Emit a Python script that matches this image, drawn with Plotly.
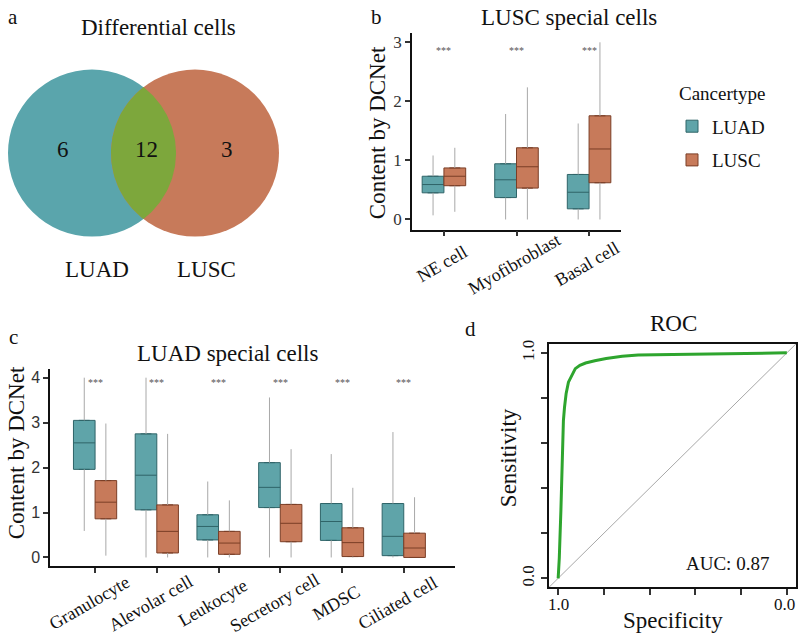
import numpy as np
import plotly.graph_objects as go

# ---------------- data ----------------
# Panel a: Venn counts
venn_labels = ["LUAD", "LUSC"]
venn_luad_only = 6
venn_both = 12
venn_lusc_only = 3

# Panel b: LUSC special cells (box stats)
b_cells = ["NE cell", "Myofibroblast", "Basal cell"]
b_luad_low = [0.07, 0.00, 0.00]
b_luad_q1 = [0.45, 0.37, 0.18]
b_luad_med = [0.59, 0.67, 0.46]
b_luad_q3 = [0.73, 0.94, 0.76]
b_luad_high = [1.08, 1.78, 1.62]
b_lusc_low = [0.13, 0.00, 0.00]
b_lusc_q1 = [0.57, 0.53, 0.62]
b_lusc_med = [0.73, 0.89, 1.19]
b_lusc_q3 = [0.87, 1.21, 1.75]
b_lusc_high = [1.21, 2.23, 2.99]
b_sig = ["***", "***", "***"]
b_sig_y = 2.86

# Panel c: LUAD special cells (box stats)
c_cells = ["Granulocyte", "Alevolar cell", "Leukocyte", "Secretory cell", "MDSC", "Ciliated cell"]
c_luad_low = [0.59, 0.00, 0.00, 0.00, 0.00, 0.00]
c_luad_q1 = [1.96, 1.06, 0.39, 1.11, 0.38, 0.04]
c_luad_med = [2.55, 1.83, 0.69, 1.56, 0.80, 0.47]
c_luad_q3 = [3.05, 2.75, 0.95, 2.11, 1.20, 1.20]
c_luad_high = [4.00, 4.00, 1.69, 3.56, 2.30, 2.79]
c_lusc_low = [0.04, 0.00, 0.00, 0.00, 0.00, 0.00]
c_lusc_q1 = [0.86, 0.10, 0.07, 0.35, 0.02, 0.00]
c_lusc_med = [1.23, 0.58, 0.32, 0.76, 0.33, 0.21]
c_lusc_q3 = [1.71, 1.17, 0.58, 1.18, 0.66, 0.54]
c_lusc_high = [2.98, 2.75, 1.27, 2.41, 1.55, 1.34]
c_sig = ["***"] * 6
c_sig_y = 3.89

# Panel d: ROC curve
roc_spec = [1.0, 0.995, 0.988, 0.983, 0.981, 0.977, 0.972, 0.965, 0.955, 0.94,
            0.925, 0.905, 0.88, 0.84, 0.79, 0.72, 0.65, 0.5, 0.3, 0.1, 0.0]
roc_sens = [0.0, 0.09, 0.30, 0.49, 0.62, 0.70, 0.76, 0.82, 0.87, 0.90,
            0.93, 0.945, 0.955, 0.965, 0.975, 0.985, 0.99, 0.993, 0.996, 0.998, 1.0]
roc_auc = 0.87
roc_tick_labels = ["1.0", "0.0"]

# ---------------- styling ----------------
W, H = 800, 637
SERIF = "Liberation Serif, Times New Roman, serif"
SANS = "Liberation Sans, Arial, sans-serif"
TEAL, TEAL_LINE = "#5FA4A9", "#2F6468"
ORANGE, ORANGE_LINE = "#C77A5A", "#7A3E26"
VENN_TEAL, VENN_ORANGE, VENN_GREEN = "#5AA5AC", "#C77A5A", "#7DA73C"
WHISKER = "#A8A8A8"
TXT = "#111111"


def X(p):
    return p / W


def Y(p):
    return 1 - p / H


fig = go.Figure()
annotations = []
shapes = []


def ann(text, x, y, size, xref="paper", yref="paper", font=SERIF, color=TXT,
        xanchor="center", yanchor="middle", **kw):
    annotations.append(dict(text=text, x=x, y=y, xref=xref, yref=yref, showarrow=False,
                            xanchor=xanchor, yanchor=yanchor,
                            font=dict(family=font, size=size, color=color), **kw))


# ---------------- panel a: Venn ----------------
r = 84
cl, cr, cy = 92, 195, 150
for cx, col in [(cl, VENN_TEAL), (cr, VENN_ORANGE)]:
    shapes.append(dict(type="circle", xref="x5", yref="y5", x0=cx - r, x1=cx + r,
                       y0=cy - r, y1=cy + r, fillcolor=col, line=dict(width=0), layer="below"))
# lens region (intersection of the two circles)
d = cr - cl
a_half = np.arccos((d / 2) / r)
t1 = np.linspace(-a_half, a_half, 60)
lens_x = list(cl + r * np.cos(t1)) + list(cr + r * np.cos(np.pi + t1))
lens_y = list(cy + r * np.sin(t1)) + list(cy + r * np.sin(np.pi + t1))
fig.add_trace(go.Scatter(x=lens_x, y=lens_y, fill="toself", fillcolor=VENN_GREEN, mode="lines",
                         line=dict(width=0), xaxis="x5", yaxis="y5", showlegend=False,
                         hoverinfo="skip"))
ann("a", X(13), Y(13), 21)
ann("Differential cells", X(158), Y(24), 23)
ann(str(venn_luad_only), 63, 146, 23, xref="x5", yref="y5")
ann(str(venn_both), 146, 146, 23, xref="x5", yref="y5")
ann(str(venn_lusc_only), 227, 146, 23, xref="x5", yref="y5")
ann(venn_labels[0], X(97), Y(267), 23)
ann(venn_labels[1], X(207), Y(267), 23)


# ---------------- box helper ----------------
def add_boxes(cells, groups, xa, ya, width, legend):
    n = len(cells)
    for gi, (name, low, q1, med, q3, high, fill, line) in enumerate(groups):
        off = (gi - 0.5) * width
        pos = [i + off for i in range(n)]
        wx, wy = [], []
        for p, lo, a, b, hi in zip(pos, low, q1, q3, high):
            wx += [p, p, None, p, p, None]
            wy += [lo, a, None, b, hi, None]
        fig.add_trace(go.Scatter(x=wx, y=wy, mode="lines", line=dict(color=WHISKER, width=1),
                                 xaxis=xa, yaxis=ya, showlegend=False, hoverinfo="skip"))
        fig.add_trace(go.Box(x=pos, q1=q1, median=med, q3=q3, lowerfence=q1, upperfence=q3,
                             width=width, fillcolor=fill, line=dict(color=line, width=1),
                             name=name, xaxis=xa, yaxis=ya, showlegend=legend,
                             legendgroup=name, boxpoints=False))


# ---------------- panel b ----------------
add_boxes(b_cells,
          [("LUAD", b_luad_low, b_luad_q1, b_luad_med, b_luad_q3, b_luad_high, TEAL, TEAL_LINE),
           ("LUSC", b_lusc_low, b_lusc_q1, b_lusc_med, b_lusc_q3, b_lusc_high, ORANGE, ORANGE_LINE)],
          "x", "y", 0.3, True)
for i, s in enumerate(b_sig):
    ann(s, i, b_sig_y, 10, xref="x", yref="y", color="#555555")
for i, c in enumerate(b_cells):
    ann(c, i, Y(262), 18, xref="x", yref="paper", textangle=-30, xshift=-2)
ann("b", X(376), Y(13), 21)
ann("LUSC special cells", X(569), Y(14), 23)
ann("Content by DCNet", X(377), Y(130), 23, textangle=-90)
ann("Cancertype", X(722), Y(90), 19)

# ---------------- panel c ----------------
add_boxes(c_cells,
          [("LUAD", c_luad_low, c_luad_q1, c_luad_med, c_luad_q3, c_luad_high, TEAL, TEAL_LINE),
           ("LUSC", c_lusc_low, c_lusc_q1, c_lusc_med, c_lusc_q3, c_lusc_high, ORANGE, ORANGE_LINE)],
          "x2", "y2", 0.35, False)
for i, s in enumerate(c_sig):
    ann(s, i, c_sig_y, 10, xref="x2", yref="y2", color="#555555")
for i, c in enumerate(c_cells):
    ann(c, i, Y(603), 18, xref="x2", yref="paper", textangle=-30, xshift=-6)
ann("c", X(13), Y(335), 21)
ann("LUAD special cells", X(227), Y(352), 23)
ann("Content by DCNet", X(16), Y(452), 23, textangle=-90)

# ---------------- panel d ----------------
lo_lim, hi_lim = -0.04, 1.04
fig.add_trace(go.Scatter(x=[hi_lim, lo_lim], y=[1 - hi_lim, 1 - lo_lim], mode="lines",
                         line=dict(color="#A8A8A8", width=1), xaxis="x3", yaxis="y3",
                         showlegend=False, hoverinfo="skip"))
fig.add_trace(go.Scatter(x=roc_spec, y=roc_sens, mode="lines",
                         line=dict(color="#2EA52E", width=3), xaxis="x3", yaxis="y3",
                         showlegend=False))
ann("d", X(470), Y(327), 21)
ann("ROC", X(673), Y(322), 23)
ann(f"AUC: {roc_auc:.2f}", X(727), Y(563), 19)
ann("Sensitivity", X(508), Y(457), 23, textangle=-90)
ann("Specificity", X(673), Y(620), 23)
ann(roc_tick_labels[0], 1.0, Y(604), 17, xref="x3")
ann(roc_tick_labels[1], 0.0, Y(604), 17, xref="x3", xshift=-2)

# ---------------- layout ----------------
axis_common = dict(showgrid=False, zeroline=False, showline=True, linecolor="#111111",
                   linewidth=1.5, ticks="outside", tickcolor="#333333", tickwidth=1.5)
ticks6 = [0, 0.2, 0.4, 0.6, 0.8, 1.0]
tick6_text = ["0.0", "", "", "", "", "1.0"]

fig.update_layout(
    width=W, height=H, margin=dict(l=0, r=0, t=0, b=0),
    paper_bgcolor="white", plot_bgcolor="white",
    annotations=annotations, shapes=shapes,
    xaxis=dict(domain=[X(412), X(621)], range=[-0.44, 2.44], anchor="y",
               tickvals=list(range(len(b_cells))), showticklabels=False, ticklen=5, **axis_common),
    yaxis=dict(domain=[Y(227), Y(29)], range=[-0.17, 3.15], anchor="x",
               tickvals=[0, 1, 2, 3], ticklen=5,
               tickfont=dict(family=SERIF, size=17, color="#333333"), **axis_common),
    xaxis2=dict(domain=[X(50), X(455)], range=[-0.73, 5.83], anchor="y2",
                tickvals=list(range(len(c_cells))), showticklabels=False, ticklen=5, **axis_common),
    yaxis2=dict(domain=[Y(566), Y(367)], range=[-0.2, 4.2], anchor="x2",
                tickvals=[0, 1, 2, 3, 4], ticklen=5,
                tickfont=dict(family=SANS, size=16, color="#333333"), **axis_common),
    xaxis3=dict(domain=[X(549), X(796)], range=[hi_lim, lo_lim], anchor="y3", mirror=True,
                tickvals=ticks6, showticklabels=False, ticklen=6, **axis_common),
    yaxis3=dict(domain=[Y(587), Y(342)], range=[lo_lim, hi_lim], anchor="x3", mirror=True,
                tickvals=ticks6, ticktext=tick6_text, ticklen=6, tickangle=-90,
                tickfont=dict(family=SERIF, size=17, color=TXT), **axis_common),
    xaxis5=dict(domain=[0, X(290)], range=[0, 290], visible=False, anchor="y5"),
    yaxis5=dict(domain=[Y(300), 1], range=[300, 0], visible=False, anchor="x5"),
    legend=dict(x=X(672), y=Y(104), xanchor="left", yanchor="top",
                font=dict(family=SERIF, size=19, color=TXT), tracegroupgap=6,
                bgcolor="rgba(0,0,0,0)"),
    boxmode="overlay",
)
fig.write_html("out.html", config={"displayModeBar": False},
               post_script="document.body.style.margin='0px';document.body.style.overflow='hidden';")
